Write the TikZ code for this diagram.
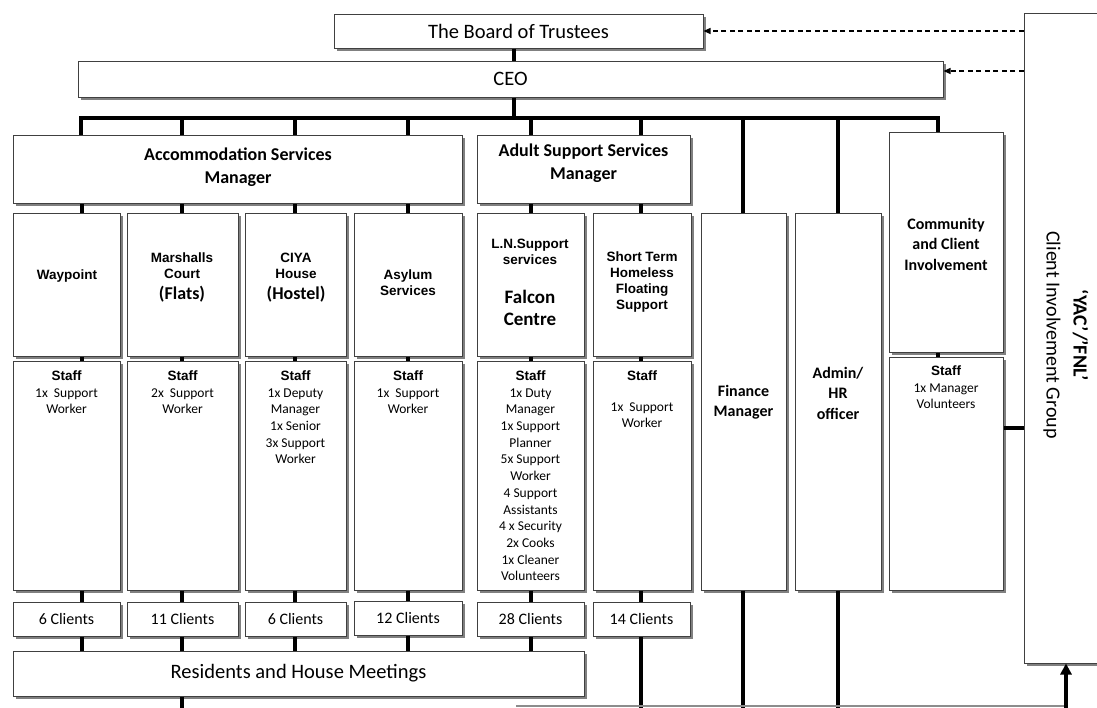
\documentclass[tikz,border=0pt]{standalone}
\usepackage{fontspec}
\setmainfont{Carlito}
\newfontfamily\arl{Liberation Sans}
\usetikzlibrary{shadows,arrows.meta}
\newcommand\mkbox[7][]{\node[bx,minimum width={(#5)-(#3)},minimum height={(#6)-(#4)},#1] (#2) at ({((#3)+(#5))/2},{((#4)+(#6))/2}) {#7};}
\begin{document}
\begin{tikzpicture}[x=1pt,y=-1pt,
  bx/.style={draw=black!75, line width=1pt, fill=white, inner sep=0pt,
     drop shadow={shadow xshift=2.5pt, shadow yshift=-2.5pt, fill=black!50, opacity=1}},
  conn/.style={line width=3.6pt, black},
  dsh/.style={line width=1.3pt, dash pattern=on 5pt off 3.5pt, -{Triangle[length=7pt,width=6pt]}},
  lst/.style={font=\fontsize{13.5}{16.7}\selectfont, align=center, inner sep=0pt, anchor=north},
  lab/.style={font=\arl\bfseries\fontsize{13.5}{15.8}\selectfont, align=center, inner sep=0pt},
  cb/.style={font=\bfseries\fontsize{18}{22.5}\selectfont, align=center, inner sep=0pt},
  mg/.style={font=\bfseries\fontsize{16}{20.5}\selectfont, align=center, inner sep=0pt},
  bigt/.style={font=\fontsize{20.5}{24}\selectfont},
  clt/.style={font=\fontsize{16}{19}\selectfont}]
\clip (0,0) rectangle (1097,707);
% coordinates
\coordinate (xa) at (82,0);
\coordinate (xb) at (182,0);
\coordinate (xc) at (295,0);
\coordinate (xd) at (408,0);
\coordinate (xe) at (531,0);
\coordinate (xf) at (641,0);
\coordinate (xg) at (743,0);
\coordinate (xh) at (838,0);
\coordinate (xi) at (938,0);
\coordinate (xceo) at (514,0);
\coordinate (barL) at (81,118);
\coordinate (barR) at (938,118);
\coordinate (yc) at (0,71);
\coordinate (yk) at (0,428);
\coordinate (bot) at (0,712);
\coordinate (bl) at (516,706);
\coordinate (br) at (1066,706);
% top boxes
\mkbox[bigt]{board}{334}{14}{703}{48}{The Board of Trustees}
\mkbox[bigt]{ceo}{78}{61}{943}{97}{CEO}
\mkbox{acc}{13}{135}{462}{203}{}
\mkbox{adult}{477}{135}{690}{203}{}
\mkbox{comm}{889}{132}{1003}{352}{}
\mkbox{big}{1024}{13}{1110}{663}{}
% services
\mkbox{wp}{13}{213}{120}{356}{}
\mkbox{mc}{127}{213}{238}{356}{}
\mkbox{ciya}{245}{213}{346}{356}{}
\mkbox{asy}{354}{213}{462}{356}{}
\mkbox{ln}{477}{213}{584}{356}{}
\mkbox{st}{593}{213}{691}{356}{}
\mkbox{fin}{701}{213}{786}{590}{}
\mkbox{adm}{795}{213}{881}{590}{}
% staff
\mkbox{wpS}{13}{361}{120}{590}{}
\mkbox{mcS}{127}{361}{238}{590}{}
\mkbox{ciyaS}{245}{361}{346}{590}{}
\mkbox{asyS}{354}{361}{462}{590}{}
\mkbox{lnS}{477}{361}{584}{590}{}
\mkbox{stS}{593}{361}{691}{590}{}
\mkbox{commS}{889}{357}{1003}{590}{}
% clients
\mkbox[clt]{wpC}{13}{602}{120}{636}{6 Clients}
\mkbox[clt]{mcC}{127}{602}{238}{636}{11 Clients}
\mkbox[clt]{ciyaC}{245}{602}{346}{636}{6 Clients}
\mkbox[clt]{asyC}{354}{601}{462}{635}{12 Clients}
\mkbox[clt]{lnC}{477}{602}{584}{636}{28 Clients}
\mkbox[clt]{stC}{593}{602}{690}{636}{14 Clients}
\mkbox[bigt]{res}{13}{651}{584}{696}{Residents and House Meetings}
% texts
\node[cb] (accT) at (238,167) {Accommodation Services\\Manager};
\node[cb] (adultT) at (583.5,163) {Adult Support Services\\Manager};
\node[lab] (wpT) at (67,276) {Waypoint};
\node[lab] (mcT) at (182,266) {Marshalls\\Court};
\node[cb] (mcT2) at (182,294) {(Flats)};
\node[lab] (ciyaT) at (296,266) {CIYA\\House};
\node[cb] (ciyaT2) at (296,294) {(Hostel)};
\node[lab] (asyT) at (408,283) {Asylum\\Services};
\node[lab] (lnT) at (530,252) {L.N.Support\\services};
\node[font=\bfseries\fontsize{19}{22}\selectfont, align=center, inner sep=0pt] (lnT2) at (530,308) {Falcon\\Centre};
\node[lab] (stT) at (642,282) {Short Term\\Homeless\\Floating\\Support};
\node[mg] (finT) at (743.5,402) {Finance\\Manager};
\node[mg] (admT) at (838,393) {Admin/\\HR\\officer};
\node[mg] (commT) at (946,244) {Community\\and Client\\Involvement};
\node[lst] (wpL) at ([yshift=-10pt]wpS.north) {{\arl\bfseries Staff}\\1x~ Support\\Worker};
\node[lst] (mcL) at ([yshift=-10pt]mcS.north) {{\arl\bfseries Staff}\\2x~ Support\\Worker};
\node[lst] (ciyaL) at ([yshift=-10pt]ciyaS.north) {{\arl\bfseries Staff}\\1x Deputy\\Manager\\1x Senior\\3x Support\\Worker};
\node[lst] (asyL) at ([yshift=-10pt]asyS.north) {{\arl\bfseries Staff}\\1x~ Support\\Worker};
\node[lst] (lnL) at ([yshift=-10pt]lnS.north) {{\arl\bfseries Staff}\\1x Duty\\Manager\\1x Support\\Planner\\5x Support\\Worker\\4 Support\\Assistants\\4 x Security\\2x Cooks\\1x Cleaner\\Volunteers};
\node[lst] (stL) at ([yshift=-10pt]stS.north) {{\arl\bfseries Staff}\\[14pt]1x~ Support\\Worker};
\node[lst] (commL) at ([yshift=-9pt]commS.north) {{\arl\bfseries Staff}\\1x Manager\\Volunteers};
\node[rotate=-90, align=center, font=\fontsize{20}{27}\selectfont, inner sep=0pt] (bigT) at (1066,335) {\textbf{‘YAC’/’FNL’}\\Client Involvement Group};
% connectors
\draw[conn] (board.south -| xceo) -- (ceo.north -| xceo);
\draw[conn] (ceo.south -| xceo) -- (barL -| xceo);
\draw[conn] (acc.north -| barL) -- (barL) -- (barR) -- (comm.north -| barR);
\foreach \c in {xb,xc,xd} \draw[conn] (barL -| \c) -- (acc.north -| \c);
\foreach \c in {xe,xf} \draw[conn] (barL -| \c) -- (adult.north -| \c);
\draw[conn] (barL -| xg) -- (fin.north -| xg);
\draw[conn] (barL -| xh) -- (adm.north -| xh);
\draw[conn] (acc.south -| xa) -- (wp.north -| xa);
\draw[conn] (acc.south -| xb) -- (mc.north -| xb);
\draw[conn] (acc.south -| xc) -- (ciya.north -| xc);
\draw[conn] (acc.south -| xd) -- (asy.north -| xd);
\draw[conn] (adult.south -| xe) -- (ln.north -| xe);
\draw[conn] (adult.south -| xf) -- (st.north -| xf);
\draw[conn] (wp.south -| xa) -- (wpS.north -| xa);
\draw[conn] (mc.south -| xb) -- (mcS.north -| xb);
\draw[conn] (ciya.south -| xc) -- (ciyaS.north -| xc);
\draw[conn] (asy.south -| xd) -- (asyS.north -| xd);
\draw[conn] (ln.south -| xe) -- (lnS.north -| xe);
\draw[conn] (st.south -| xf) -- (stS.north -| xf);
\draw[conn] (comm.south -| xi) -- (commS.north -| xi);
\draw[conn] (wpS.south -| xa) -- (wpC.north -| xa);
\draw[conn] (mcS.south -| xb) -- (mcC.north -| xb);
\draw[conn] (ciyaS.south -| xc) -- (ciyaC.north -| xc);
\draw[conn] (asyS.south -| xd) -- (asyC.north -| xd);
\draw[conn] (lnS.south -| xe) -- (lnC.north -| xe);
\draw[conn] (stS.south -| xf) -- (stC.north -| xf);
\draw[conn] (wpC.south -| xa) -- (res.north -| xa);
\draw[conn] (mcC.south -| xb) -- (res.north -| xb);
\draw[conn] (ciyaC.south -| xc) -- (res.north -| xc);
\draw[conn] (asyC.south -| xd) -- (res.north -| xd);
\draw[conn] (lnC.south -| xe) -- (res.north -| xe);
\draw[conn] (res.south -| xb) -- (xb |- bot);
\draw[conn] (stC.south -| xf) -- (xf |- bot);
\draw[conn] (fin.south -| xg) -- (xg |- bot);
\draw[conn] (adm.south -| xh) -- (xh |- bot);
\draw[black!45, line width=1.2pt] (bl) -- (br);
\draw[conn, -{Triangle[length=11pt,width=11pt]}] (br |- bot) -- (big.south -| br);
\draw[conn] (commS.east |- yk) -- (big.west |- yk);
\draw[dsh] (big.west |- board.east) -- (board.east);
\draw[dsh] (big.west |- yc) -- (ceo.east |- yc);
\end{tikzpicture}
\end{document}
